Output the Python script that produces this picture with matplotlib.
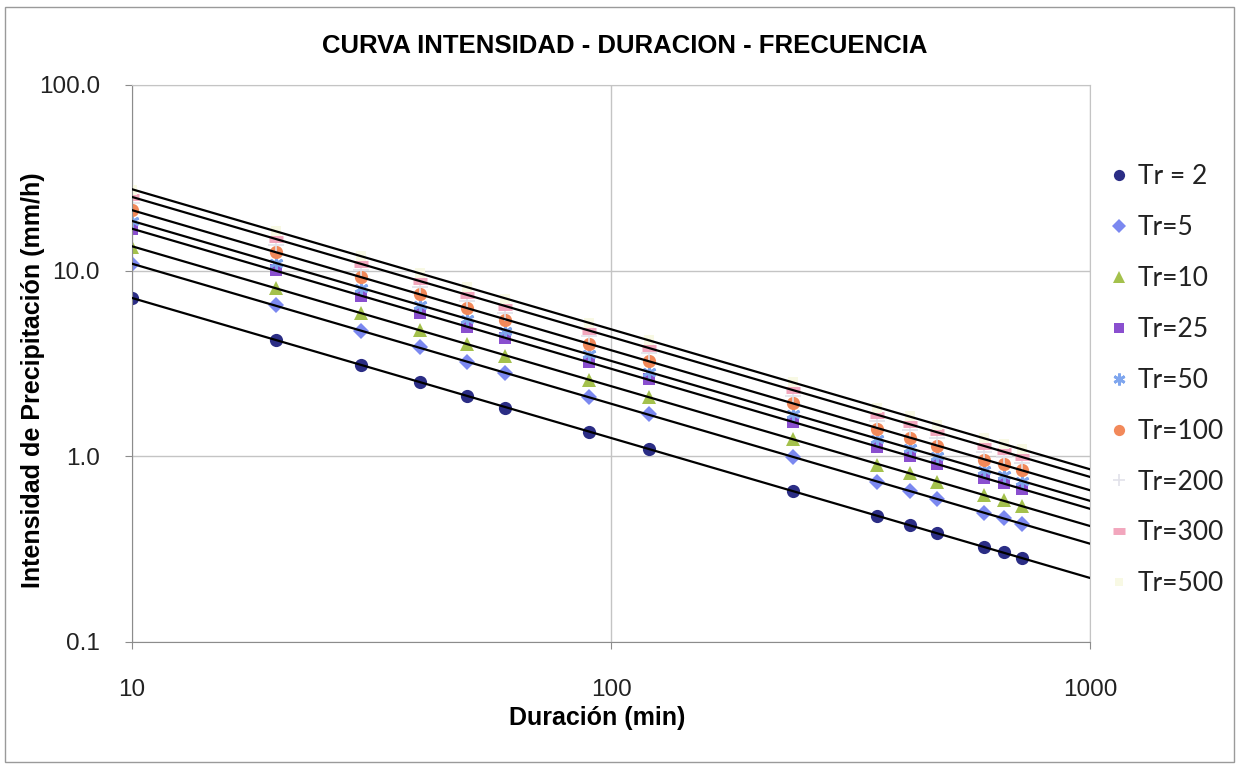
import numpy as np
import matplotlib
matplotlib.use("Agg")
import matplotlib.pyplot as plt
from matplotlib.ticker import FixedLocator, FormatStrFormatter, NullLocator
from matplotlib.patches import Rectangle

# durations (min)
duracion = [10, 20, 30, 40, 50, 60, 90, 120, 240, 360, 420, 480, 600, 660, 720]

# intensities (mm/h)
tr2 = [7.10, 4.25, 3.10, 2.52, 2.12, 1.83, 1.36, 1.10, 0.65, 0.475, 0.425, 0.385, 0.324, 0.305, 0.283]
tr5 = [10.86, 6.50, 4.74, 3.86, 3.24, 2.80, 2.08, 1.68, 0.99, 0.727, 0.650, 0.589, 0.496, 0.467, 0.433]
tr10 = [13.49, 8.08, 5.89, 4.79, 4.03, 3.48, 2.58, 2.09, 1.24, 0.90, 0.81, 0.73, 0.62, 0.58, 0.54]
tr25 = [16.76, 10.03, 7.32, 5.95, 5.00, 4.32, 3.21, 2.60, 1.53, 1.12, 1.00, 0.91, 0.76, 0.72, 0.67]
tr50 = [18.46, 11.05, 8.06, 6.55, 5.51, 4.76, 3.54, 2.86, 1.69, 1.24, 1.11, 1.00, 0.84, 0.79, 0.74]
tr100 = [21.09, 12.62, 9.21, 7.48, 6.30, 5.44, 4.04, 3.27, 1.93, 1.41, 1.26, 1.14, 0.96, 0.91, 0.84]
tr200 = [23.08, 13.81, 10.08, 8.19, 6.89, 5.95, 4.42, 3.58, 2.11, 1.54, 1.38, 1.25, 1.05, 0.99, 0.92]
tr300 = [24.85, 14.88, 10.85, 8.82, 7.42, 6.41, 4.76, 3.85, 2.28, 1.66, 1.49, 1.35, 1.13, 1.07, 0.99]
tr500 = [27.34, 16.36, 11.94, 9.70, 8.16, 7.05, 5.24, 4.24, 2.50, 1.83, 1.64, 1.48, 1.25, 1.17, 1.09]

series = [tr2, tr5, tr10, tr25, tr50, tr100, tr200, tr300, tr500]
labels = ["Tr = 2", "Tr=5", "Tr=10", "Tr=25", "Tr=50", "Tr=100", "Tr=200", "Tr=300", "Tr=500"]

# marker style for each series (Excel defaults look)
markers = ["o", "D", "^", "s", (6, 2, 0), "o", "+", "_", "s"]
colors = ["#2b2d85", "#7b88f0", "#a4c14c", "#8a4fcf", "#7fa6ee", "#f2895a", "#e2e2ea", "#f2a6bd", "#f8f9e4"]
sizes = [9.5, 8.5, 10, 8.5, 10, 9.5, 11, 10, 7.5]
mews = [0, 0, 0, 0, 2, 0, 1.2, 5, 0]
with_trend = [True, True, True, True, True, True, False, True, True]

fig = plt.figure(figsize=(12.41, 7.67), dpi=100)
ax = fig.add_axes([0.1064, 0.163, 0.7719, 0.7262])

xfit = np.array([10, 1000])
for vals, lab, m, c, s, mw, tr in zip(series, labels, markers, colors, sizes, mews, with_trend):
    filled = m not in ("+", "_", (6, 2, 0))
    if filled:
        ax.plot(duracion, vals, linestyle="none", marker=m, markersize=s,
                color=c, markeredgewidth=0, label=lab, zorder=2)
    else:
        ax.plot(duracion, vals, linestyle="none", marker=m, markersize=s,
                color=c, markeredgecolor=c, markeredgewidth=mw, label=lab, zorder=2)
    if tr:
        # power trendline (least squares in log-log)
        b, a = np.polyfit(np.log10(duracion), np.log10(vals), 1)
        ax.plot(xfit, 10 ** (a + b * np.log10(xfit)), color="black", lw=1.6, zorder=3)

ax.set_xscale("log")
ax.set_yscale("log")
ax.set_xlim(10, 1000)
ax.set_ylim(0.1, 100)

ax.xaxis.set_major_locator(FixedLocator([10, 100, 1000]))
ax.yaxis.set_major_locator(FixedLocator([0.1, 1, 10, 100]))
ax.xaxis.set_minor_locator(NullLocator())
ax.yaxis.set_minor_locator(NullLocator())
ax.xaxis.set_major_formatter(FormatStrFormatter("%d"))
ax.yaxis.set_major_formatter(FormatStrFormatter("%.1f"))

ax.grid(True, which="major", color="#c4c4c4", lw=1)
ax.set_axisbelow(True)
for sp in ax.spines.values():
    sp.set_color("#c4c4c4")
ax.spines["left"].set_color("#8c8c8c")
ax.spines["bottom"].set_color("#8c8c8c")

ax.tick_params(axis="both", direction="out", length=5, color="#8c8c8c",
               labelsize=17.5, labelcolor="#222222")
ax.tick_params(axis="x", pad=22)
ax.tick_params(axis="y", pad=18)
for t in ax.get_xticklabels() + ax.get_yticklabels():
    t.set_family("Liberation Sans")

ttl = ax.set_title("CURVA INTENSIDAD - DURACION - FRECUENCIA", fontsize=18.5,
                   fontweight="bold", family="Liberation Sans", pad=23)
ttl.set_x(0.514)
ax.set_xlabel("Duración (min)", fontsize=18, fontweight="bold", family="Liberation Sans")
ax.xaxis.set_label_coords(0.486, -0.137)
ax.xaxis.label.set_va("center")
ax.set_ylabel("Intensidad de Precipitación (mm/h)", fontsize=18, fontweight="bold",
              family="Liberation Sans")
ax.yaxis.set_label_coords(-0.103, 0.47)
ax.yaxis.label.set_va("center")

leg = ax.legend(loc="upper left", bbox_to_anchor=(0.995, 0.9), frameon=False,
                prop={"family": "Lato", "size": 19}, labelspacing=0.98,
                handlelength=0.8, handletextpad=0.3, markerscale=0.85)
for t in leg.get_texts():
    t.set_color("#222222")

fig.patches.append(Rectangle((0.004, 0.006), 0.99, 0.985, transform=fig.transFigure,
                             fill=False, edgecolor="#9a9a9a", lw=1))

fig.savefig("out.png", dpi=100, facecolor="white")
